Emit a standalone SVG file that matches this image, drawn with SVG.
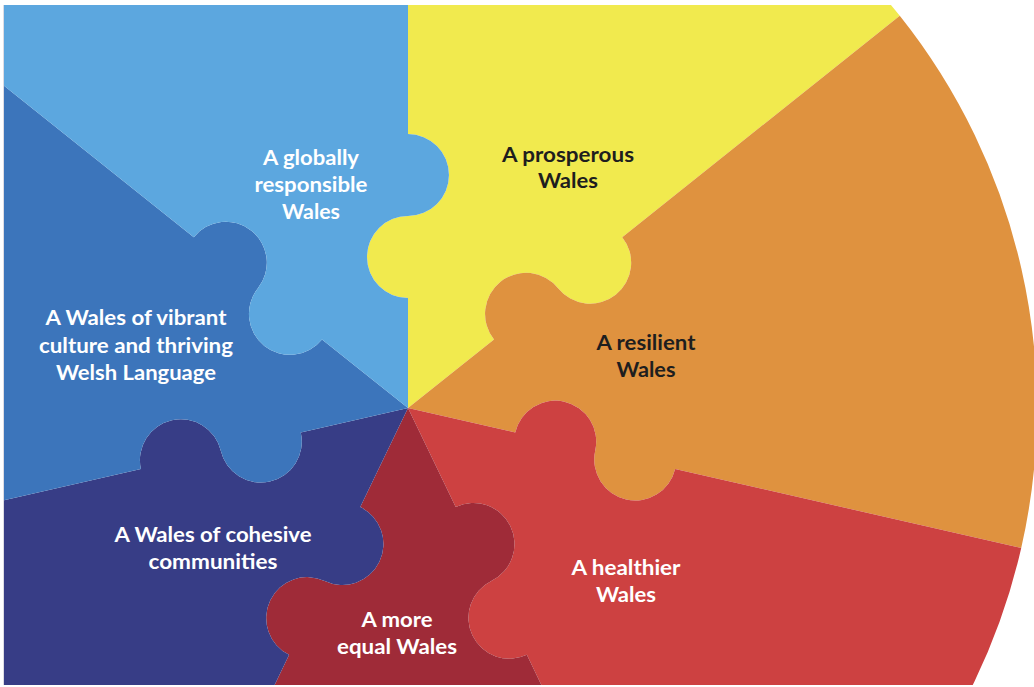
<svg xmlns="http://www.w3.org/2000/svg" width="1034" height="687" viewBox="0 0 1034 687">
  <style>
    .lbl { font-family: Lato, "Open Sans", "Liberation Sans", sans-serif; font-weight: 700; font-size: 21px; text-anchor: middle; }
    .w { fill: #ffffff; }
    .d { fill: #1e1e1e; }
  </style>
  <defs>
    <clipPath id="frame">
      <rect x="4" y="5" width="1030" height="680"/>
    </clipPath>
  </defs>
  <rect width="1034" height="687" fill="#ffffff"/>
  <line x1="3.5" y1="5" x2="3.5" y2="685" stroke="#dcdce4" stroke-width="1"/>
  <g clip-path="url(#frame)">
    <g id="prosperous">
      <path fill="#F1EA4E" d="M408 408 L408 298 A41 41 0 0 1 408 216 A41 41 0 0 0 408 134 L408 -221 A629 629 0 0 1 899.77 15.82 L622.22 237.16 A41 41 0 0 1 558.11 288.29 A41 41 0 0 0 494 339.42 Z"/>
      <text class="lbl d" x="568" y="162" textLength="132" lengthAdjust="spacingAndGlyphs">A prosperous</text>
      <text class="lbl d" x="568" y="188" textLength="60" lengthAdjust="spacingAndGlyphs">Wales</text>
    </g>
    <g id="resilient">
      <path fill="#DF923F" d="M408 408 L494 339.42 A41 41 0 0 1 558.11 288.29 A41 41 0 0 0 622.22 237.16 L899.77 15.82 A629 629 0 0 1 1021.23 547.97 L675.13 468.97 A41 41 0 0 1 595.19 450.72 A41 41 0 0 0 515.24 432.48 Z"/>
      <text class="lbl d" x="646" y="350" textLength="99" lengthAdjust="spacingAndGlyphs">A resilient</text>
      <text class="lbl d" x="646" y="377" textLength="59" lengthAdjust="spacingAndGlyphs">Wales</text>
    </g>
    <g id="healthier">
      <path fill="#CD4141" d="M408 408 L515.24 432.48 A41 41 0 0 1 595.19 450.72 A41 41 0 0 0 675.13 468.97 L1021.23 547.97 A629 629 0 0 1 680.91 974.71 L526.88 654.87 A41 41 0 0 1 491.31 580.99 A41 41 0 0 0 455.73 507.11 Z"/>
      <text class="lbl w" x="626" y="575" textLength="109" lengthAdjust="spacingAndGlyphs">A healthier</text>
      <text class="lbl w" x="626" y="602" textLength="60" lengthAdjust="spacingAndGlyphs">Wales</text>
    </g>
    <g id="equal">
      <path fill="#9F2B38" d="M408 408 L455.73 507.11 A41 41 0 0 1 491.31 580.99 A41 41 0 0 0 526.88 654.87 L680.91 974.71 A629 629 0 0 1 135.09 974.71 L289.12 654.87 A41 41 0 0 1 324.69 580.99 A41 41 0 0 0 360.27 507.11 Z"/>
      <text class="lbl w" x="397" y="627" textLength="71" lengthAdjust="spacingAndGlyphs">A more</text>
      <text class="lbl w" x="397" y="654" textLength="120" lengthAdjust="spacingAndGlyphs">equal Wales</text>
    </g>
    <g id="cohesive">
      <path fill="#373D86" d="M408 408 L360.27 507.11 A41 41 0 0 1 324.69 580.99 A41 41 0 0 0 289.12 654.87 L135.09 974.71 A629 629 0 0 1 -205.23 547.97 L140.87 468.97 A41 41 0 0 1 220.81 450.72 A41 41 0 0 0 300.76 432.48 Z"/>
      <text class="lbl w" x="213" y="542" textLength="197" lengthAdjust="spacingAndGlyphs">A Wales of cohesive</text>
      <text class="lbl w" x="213" y="569" textLength="129" lengthAdjust="spacingAndGlyphs">communities</text>
    </g>
    <g id="culture">
      <path fill="#3C75BB" d="M408 408 L300.76 432.48 A41 41 0 0 1 220.81 450.72 A41 41 0 0 0 140.87 468.97 L-205.23 547.97 A629 629 0 0 1 -83.77 15.82 L193.78 237.16 A41 41 0 0 1 257.89 288.29 A41 41 0 0 0 322 339.42 Z"/>
      <text class="lbl w" x="136" y="325" textLength="181" lengthAdjust="spacingAndGlyphs">A Wales of vibrant</text>
      <text class="lbl w" x="136" y="353" textLength="194" lengthAdjust="spacingAndGlyphs">culture and thriving</text>
      <text class="lbl w" x="136" y="380" textLength="160" lengthAdjust="spacingAndGlyphs">Welsh Language</text>
    </g>
    <g id="globally">
      <path fill="#5CA7DF" d="M408 408 L322 339.42 A41 41 0 0 1 257.89 288.29 A41 41 0 0 0 193.78 237.16 L-83.77 15.82 A629 629 0 0 1 408 -221 L408 134 A41 41 0 0 1 408 216 A41 41 0 0 0 408 298 Z"/>
      <text class="lbl w" x="311" y="165" textLength="96" lengthAdjust="spacingAndGlyphs">A globally</text>
      <text class="lbl w" x="311" y="192" textLength="113" lengthAdjust="spacingAndGlyphs">responsible</text>
      <text class="lbl w" x="311" y="219" textLength="58" lengthAdjust="spacingAndGlyphs">Wales</text>
    </g>
  </g>
  <g id="connectors"/>
</svg>
